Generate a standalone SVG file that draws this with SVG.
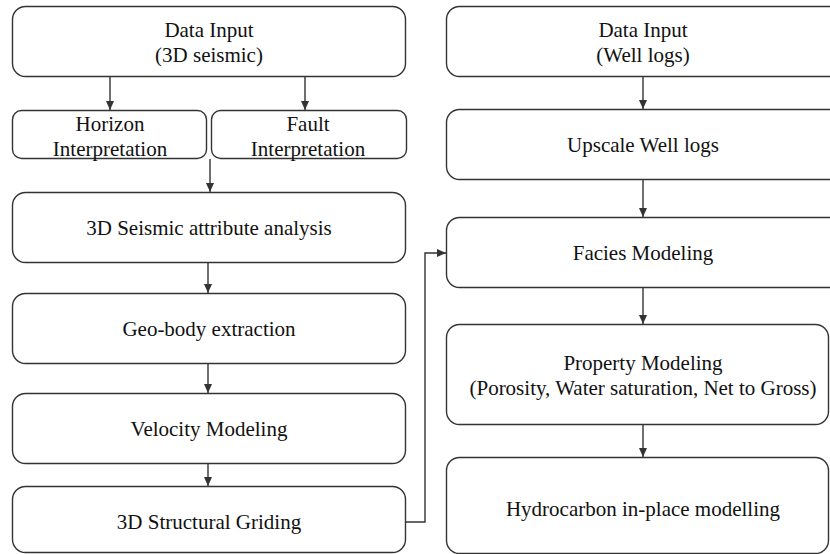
<svg xmlns="http://www.w3.org/2000/svg" width="830" height="554" viewBox="0 0 830 554">
<style>
.box{fill:#fff;stroke:#333;stroke-width:1.4}
.t{font-family:"Liberation Serif","Times New Roman",serif;font-size:21px;fill:#111;text-anchor:middle}
.c{fill:none;stroke:#333;stroke-width:1.4}
</style>
<defs>
<marker id="ah" markerWidth="10" markerHeight="10" refX="9" refY="5" orient="auto" markerUnits="userSpaceOnUse">
<path d="M0,1 L9,5 L0,9 Z" fill="#333"/>
</marker>
</defs>
<rect width="830" height="554" fill="#fff"/>
<g id="n-data-seismic"><rect class="box" x="12.5" y="6.5" width="393" height="70" rx="13"/><text class="t" x="209" y="37">Data Input</text><text class="t" x="209" y="62">(3D seismic)</text></g>
<g id="n-horizon"><rect class="box" x="12.5" y="110.5" width="194" height="48" rx="9"/><text class="t" x="110" y="131">Horizon</text><text class="t" x="110" y="156">Interpretation</text></g>
<g id="n-fault"><rect class="box" x="211.5" y="110.5" width="195" height="48" rx="9"/><text class="t" x="308" y="131">Fault</text><text class="t" x="308" y="156">Interpretation</text></g>
<g id="n-attr"><rect class="box" x="12.5" y="192.5" width="393" height="70" rx="13"/><text class="t" x="209" y="235">3D Seismic attribute analysis</text></g>
<g id="n-geobody"><rect class="box" x="12.5" y="293.5" width="393" height="70" rx="13"/><text class="t" x="209" y="336">Geo-body extraction</text></g>
<g id="n-velocity"><rect class="box" x="12.5" y="393.5" width="393" height="70" rx="13"/><text class="t" x="209" y="436">Velocity Modeling</text></g>
<g id="n-griding"><rect class="box" x="12.5" y="486.5" width="393" height="66" rx="13"/><text class="t" x="209" y="529">3D Structural Griding</text></g>
<g id="n-data-well"><rect class="box" x="446.5" y="6.5" width="400" height="70" rx="13"/><text class="t" x="643" y="37">Data Input</text><text class="t" x="643" y="62">(Well logs)</text></g>
<g id="n-upscale"><rect class="box" x="446.5" y="109.5" width="400" height="70" rx="13"/><text class="t" x="643" y="152">Upscale Well logs</text></g>
<g id="n-facies"><rect class="box" x="446.5" y="217.5" width="400" height="70" rx="13"/><text class="t" x="643" y="260">Facies Modeling</text></g>
<g id="n-property"><rect class="box" x="446.5" y="324.5" width="382" height="100" rx="13"/><text class="t" x="643" y="370">Property Modeling</text><text class="t" x="643" y="395">(Porosity, Water saturation, Net to Gross)</text></g>
<g id="n-hydrocarbon"><rect class="box" x="446.5" y="457.5" width="382" height="96" rx="13"/><text class="t" x="643" y="516">Hydrocarbon in-place modelling</text></g>
<g id="connectors">
<path class="c" d="M110,77 V110" marker-end="url(#ah)"/>
<path class="c" d="M305,77 V110" marker-end="url(#ah)"/>
<path class="c" d="M210,159 V192" marker-end="url(#ah)"/>
<path class="c" d="M208,263 V293" marker-end="url(#ah)"/>
<path class="c" d="M208,364 V393" marker-end="url(#ah)"/>
<path class="c" d="M208,464 V486" marker-end="url(#ah)"/>
<path class="c" d="M406,522 H425 V253 H446" marker-end="url(#ah)"/>
<path class="c" d="M643,77 V109" marker-end="url(#ah)"/>
<path class="c" d="M643,180 V217" marker-end="url(#ah)"/>
<path class="c" d="M643,288 V324" marker-end="url(#ah)"/>
<path class="c" d="M643,425 V457" marker-end="url(#ah)"/>
</g>
</svg>
